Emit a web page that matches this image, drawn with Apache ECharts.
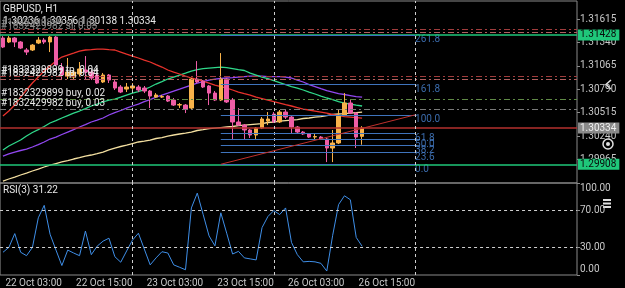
<!DOCTYPE html>
<html><head><meta charset="utf-8">
<script src="https://cdn.jsdelivr.net/npm/echarts@6/dist/echarts.min.js"></script>
<style>html,body{margin:0;padding:0;background:#000;}#c{width:625px;height:288px;}</style>
</head><body><div id="c"></div>
<script>
// ---------- data ----------
const symbolTitle = 'GBPUSD, H1';
const sessions = [['21 Oct',17,23],['22 Oct',0,23],['23 Oct',0,23],['26 Oct',0,23],['27 Oct',0,18]];
const timeLabels = ['22 Oct 03:00','22 Oct 15:00','23 Oct 03:00','23 Oct 15:00','26 Oct 03:00','26 Oct 15:00'];
const separators = ['22 Oct 15:00','23 Oct 15:00','26 Oct 15:00'];
const priceTicks = [1.29965,1.30240,1.30515,1.30790,1.31065,1.31340,1.31615];
const rsiTicks = [0,30,70,100];
const rsiGuides = [30,70];
// [open, close, low, high]
const candles = [
[1.31392,1.31286,1.31274,1.31415],[1.31345,1.31392,1.31333,1.31415],[1.31392,1.31345,1.31286,1.31403],
[1.31345,1.31274,1.31262,1.31356],[1.31251,1.31227,1.31192,1.31274],[1.31251,1.31309,1.31239,1.31321],
[1.31333,1.31368,1.31321,1.31403],[1.31368,1.31345,1.31321,1.31392],[1.31345,1.31403,1.31227,1.31415],
[1.31403,1.31075,1.31063,1.31415],[1.31051,1.30957,1.30898,1.31098],[1.30945,1.30992,1.30910,1.31157],
[1.30933,1.30992,1.30898,1.31016],[1.30969,1.31028,1.30945,1.31110],[1.31016,1.30992,1.30910,1.31180],
[1.30992,1.30922,1.30898,1.31016],[1.30957,1.30863,1.30851,1.30981],[1.30875,1.30957,1.30863,1.30981],
[1.30957,1.30898,1.30863,1.30969],[1.30875,1.30804,1.30781,1.30898],[1.30816,1.30757,1.30745,1.30839],
[1.30792,1.30816,1.30757,1.30863],[1.30804,1.30828,1.30781,1.30863],[1.30816,1.30781,1.30757,1.30839],
[1.30804,1.30769,1.30745,1.30828],[1.30769,1.30710,1.30569,1.30781],[1.30698,1.30722,1.30687,1.30745],
[1.30698,1.30704,1.30687,1.30722],[1.30710,1.30651,1.30640,1.30722],[1.30663,1.30604,1.30593,1.30687],
[1.30604,1.30610,1.30569,1.30628],[1.30604,1.30557,1.30510,1.30616],[1.30569,1.30910,1.30557,1.30922],
[1.30910,1.30875,1.30863,1.31121],[1.30886,1.30816,1.30804,1.30898],[1.30828,1.30745,1.30604,1.30839],
[1.30745,1.30663,1.30651,1.30769],[1.30663,1.30910,1.30651,1.31215],[1.30910,1.30640,1.30628,1.30922],
[1.30663,1.30405,1.30193,1.30687],[1.30405,1.30369,1.30358,1.30569],[1.30369,1.30311,1.30205,1.30381],
[1.30311,1.30252,1.30217,1.30322],[1.30252,1.30334,1.30205,1.30346],[1.30334,1.30440,1.30322,1.30463],
[1.30416,1.30440,1.30369,1.30522],[1.30498,1.30405,1.30393,1.30522],[1.30405,1.30522,1.30393,1.30546],
[1.30522,1.30463,1.30440,1.30546],[1.30463,1.30346,1.30275,1.30475],[1.30346,1.30287,1.30275,1.30358],
[1.30287,1.30264,1.30252,1.30299],[1.30264,1.30228,1.30217,1.30275],[1.30228,1.30234,1.30193,1.30275],
[1.30228,1.30205,1.30193,1.30240],[1.30205,1.30099,1.29934,1.30217],[1.30099,1.30158,1.29934,1.30311],
[1.30158,1.30475,1.30146,1.30546],[1.30487,1.30628,1.30475,1.30745],[1.30628,1.30510,1.30498,1.30663],
[1.30510,1.30228,1.30099,1.30522],[1.30236,1.30334,1.30138,1.30356]
];
const maRed = [1.30475,1.30534,1.30604,1.30698,1.30781,1.30863,1.30933,1.31004,1.31063,1.31121,1.31168,1.31192,1.31215,1.31239,1.31251,1.31256,1.31262,1.31262,1.31256,1.31251,1.31227,1.31203,1.31180,1.31157,1.31133,1.31110,1.31080,1.31051,1.31016,1.30992,1.30969,1.30945,1.30922,1.30904,1.30886,1.30863,1.30839,1.30822,1.30804,1.30781,1.30757,1.30739,1.30722,1.30698,1.30681,1.30663,1.30645,1.30628,1.30610,1.30593,1.30575,1.30557,1.30546,1.30534,1.30522,1.30510,1.30493,1.30481,1.30469,1.30463,1.30457,1.30451];
const maGreen = [1.30076,1.30123,1.30158,1.30193,1.30240,1.30281,1.30316,1.30352,1.30393,1.30422,1.30452,1.30481,1.30510,1.30534,1.30563,1.30593,1.30616,1.30640,1.30663,1.30675,1.30698,1.30722,1.30745,1.30763,1.30786,1.30816,1.30851,1.30880,1.30910,1.30933,1.30957,1.30980,1.31004,1.31021,1.31033,1.31039,1.31045,1.31051,1.31045,1.31033,1.31021,1.31010,1.30980,1.30957,1.30933,1.30916,1.30892,1.30869,1.30845,1.30822,1.30804,1.30781,1.30757,1.30734,1.30710,1.30687,1.30669,1.30645,1.30628,1.30616,1.30604,1.30593];
const maPurple = [1.30005,1.30029,1.30052,1.30070,1.30087,1.30111,1.30140,1.30170,1.30205,1.30228,1.30258,1.30287,1.30316,1.30346,1.30375,1.30405,1.30428,1.30452,1.30487,1.30516,1.30540,1.30569,1.30593,1.30616,1.30645,1.30669,1.30698,1.30722,1.30745,1.30769,1.30792,1.30816,1.30839,1.30863,1.30880,1.30898,1.30910,1.30916,1.30922,1.30927,1.30933,1.30939,1.30945,1.30945,1.30945,1.30939,1.30939,1.30939,1.30933,1.30922,1.30898,1.30875,1.30845,1.30822,1.30798,1.30775,1.30757,1.30739,1.30728,1.30716,1.30704,1.30698];
const maCream = [1.29711,1.29735,1.29758,1.29782,1.29805,1.29829,1.29852,1.29876,1.29899,1.29917,1.29935,1.29952,1.29970,1.29987,1.30005,1.30017,1.30034,1.30052,1.30076,1.30099,1.30117,1.30134,1.30152,1.30170,1.30181,1.30193,1.30211,1.30222,1.30240,1.30252,1.30264,1.30275,1.30287,1.30305,1.30316,1.30328,1.30334,1.30340,1.30346,1.30352,1.30363,1.30369,1.30375,1.30381,1.30387,1.30399,1.30405,1.30416,1.30422,1.30428,1.30434,1.30446,1.30452,1.30463,1.30469,1.30481,1.30493,1.30499,1.30504,1.30510,1.30516,1.30522];
const rsi = [24.7,30.0,45.0,24.7,21.0,30.0,62.2,75.7,44.3,27.1,10.3,27.1,23.9,21.0,47.8,22.1,31.4,36.8,40.0,19.9,13.9,26.1,37.9,45.4,28.2,11.0,18.6,25.3,23.9,11.0,8.4,5.7,72.9,89.0,65.7,42.5,31.7,67.6,45.4,22.8,25.7,18.6,17.5,16.4,51.5,63.6,70.0,65.7,72.9,35.4,22.1,14.3,14.8,14.3,12.7,4.3,43.2,76.5,86.1,81.8,40.8,31.22];
const greenLevels = [1.31428, 1.29908];
const lastPrice = 1.30334;
const slPrices = [1.31497, 1.31456];
const tpPrices = [1.30945, 1.30910];
const buyPrices = [1.30675, 1.30557];
const slTexts = ['#1832329899 sl, 0.02', '#1832429982 sl, 0.03'];
const tpTexts = ['#1832329899 tp, 0.04', '#1832429982 tp, 0.04'];
const buyTexts = ['#1832329899 buy, 0.02', '#1832429982 buy, 0.03'];
const fibLevels = ['0.0','23.6','38.2','50.0','61.8','100.0','161.8','261.8'];
const fibPrices = [1.29908,1.30045,1.30130,1.30199,1.30267,1.30489,1.30848,1.31428];
const fibStart = '23 Oct 06:00', fibEnd = '26 Oct 15:00';

// ---------- build ----------
const cats = [];
sessions.forEach(([d,a,b]) => { for (let h=a; h<=b; h++) cats.push(d + ' ' + String(h).padStart(2,'0') + ':00'); });

const UP = '#f7b24a', DOWN = '#ee5da6', LBL = '#c8c8c8', FIB = '#3f74bd';
const FONT = 'Roboto';
const dashed = [6,3,2,3];

const levels = [];
slPrices.forEach((p,i) => levels.push({yAxis:p, lineStyle:{color: i? '#b06060':'#a03c3c', type:dashed, width:1},
  label:{show:true, position:'insideStartTop', distance:1, formatter: slTexts[i], color:'#8a8a8a', fontSize:10, fontFamily:FONT}}));
tpPrices.forEach((p,i) => levels.push({yAxis:p, lineStyle:{color: i? '#b06060':'#a03c3c', type:dashed, width:1},
  label:{show:true, position:'insideStartTop', distance:1, formatter: tpTexts[i], color:'#e8e8e8', fontSize:10, fontFamily:FONT}}));
buyPrices.forEach((p,i) => levels.push({yAxis:p, lineStyle:{color: i? '#7a7a7a':'#5f8a45', type:dashed, width:1},
  label:{show:true, position:'insideStartTop', distance:1, formatter: buyTexts[i], color:'#e8e8e8', fontSize:10, fontFamily:FONT}}));
greenLevels.forEach(p => levels.push({yAxis:p, lineStyle:{color:'#1fc77a', width:1.6, type:'solid'},
  label:{show:true, position:'end', distance:1, formatter:p.toFixed(5), backgroundColor:'#1fc77a', color:'#0a0a0a', padding:[1,3,0,2], fontSize:10, fontFamily:FONT}}));
levels.push({yAxis:lastPrice, lineStyle:{color:'#b3302e', width:1.6, type:'solid'},
  label:{show:true, position:'end', distance:1, formatter:lastPrice.toFixed(5), backgroundColor:'#8a8a8a', color:'#f0f0f0', padding:[1,3,0,2], fontSize:10, fontFamily:FONT}});

const objs = [];
separators.forEach(s => objs.push({xAxis: s, lineStyle:{color:'#cfcfcf', type:[3,3], width:1}, label:{show:false}}));
fibPrices.forEach(p => objs.push([{coord:[fibStart,p], lineStyle:{color:FIB,width:1,type:'solid'}, label:{show:false}},{coord:[fibEnd,p]}]));
objs.push([{coord:[fibStart,fibPrices[0]], lineStyle:{color:'#c0302c',width:1,type:'solid'}, label:{show:false}},{coord:[fibEnd,fibPrices[5]]}]);

const maLine = (data, color, extra) => Object.assign({type:'line', xAxisIndex:0, yAxisIndex:0, data, symbol:'none', showSymbol:false,
  lineStyle:{color, width:1.3}, silent:true, z:2}, extra || {});

const last = candles[candles.length-1];
const ohlcText = [last[0], last[3], last[2], last[1]].map(v => v.toFixed(5)).join(' ');

const option = {
  backgroundColor:'#000', animation:false,
  textStyle:{fontFamily:FONT},
  grid:[{left:-1,right:48,top:1,height:182,show:true,borderColor:'#8a8a8a',borderWidth:1},
        {left:-1,right:48,top:183,height:93,show:true,borderColor:'#8a8a8a',borderWidth:1}],
  xAxis:[
    {type:'category',gridIndex:0,data:cats,boundaryGap:true,axisLine:{show:false},axisTick:{show:false},axisLabel:{show:false},splitLine:{show:false}},
    {type:'category',gridIndex:1,data:cats,boundaryGap:true,axisLine:{show:false},axisTick:{show:false},splitLine:{show:false},
     axisLabel:{interval:0,color:LBL,fontSize:10,margin:3,align:'right',fontFamily:FONT,formatter:v=>timeLabels.includes(v)?v:''}}
  ],
  yAxis:[
    {type:'value',gridIndex:0,position:'right',min:1.29688,max:1.31827,splitLine:{show:false},axisLine:{show:false},
     axisTick:{show:true,length:3,lineStyle:{color:'#8a8a8a'},customValues:priceTicks},
     axisLabel:{color:LBL,fontSize:10,margin:3,fontFamily:FONT,customValues:priceTicks,formatter:v=>v.toFixed(5)}},
    {type:'value',gridIndex:1,position:'right',min:0,max:100,splitLine:{show:false},axisLine:{show:false},
     axisTick:{show:true,length:3,lineStyle:{color:'#8a8a8a'},customValues:rsiTicks},
     axisLabel:{customValues:rsiTicks,color:LBL,fontSize:10,margin:3,fontFamily:FONT,
       formatter:v=> v===100?'{t|100.00}': v===0?'{b|0.00}': v.toFixed(2),
       rich:{t:{padding:[10,0,0,0],color:LBL,fontSize:10,fontFamily:FONT},b:{padding:[0,0,12,0],color:LBL,fontSize:10,fontFamily:FONT}}}}
  ],
  series:[
    maLine(maCream,'#f3dfa0',{markLine:{silent:true,precision:5,symbol:['none','none'],animation:false,data:levels}}),
    maLine(maPurple,'#9147f0'),
    maLine(maGreen,'#2fd88a'),
    maLine(maRed,'#e8322c'),
    {type:'candlestick', xAxisIndex:0, yAxisIndex:0, data:candles, barWidth:4, z:3, silent:true,
     itemStyle:{color:UP,color0:DOWN,borderColor:UP,borderColor0:DOWN,borderWidth:1},
     markLine:{silent:true,precision:5,symbol:['none','none'],animation:false,data:objs}},
    {type:'scatter', xAxisIndex:0, yAxisIndex:0, symbolSize:0, silent:true,
     data: fibPrices.map((p,i)=>({value:[fibEnd,p], label:{formatter:fibLevels[i]}})),
     label:{show:true,position:'right',distance:0,offset:[0,5],color:'#4a86d6',fontSize:10,fontFamily:FONT}},
    {type:'line', xAxisIndex:1, yAxisIndex:1, data:rsi, symbol:'none', lineStyle:{color:'#3f8fe8',width:1}, silent:true,
     markLine:{silent:true,symbol:['none','none'],animation:false,
       data:[...rsiGuides.map(v=>({yAxis:v})), ...separators.map(s=>({xAxis:s}))],
       lineStyle:{color:'#cfcfcf',type:[3,3],width:1}, label:{show:false}}}
  ],
  graphic:[
    {type:'text', left:3, top:4, style:{text:symbolTitle, fill:'#e8e8e8', font:'10px Roboto'}},
    {type:'text', left:3, top:16, style:{text:ohlcText, fill:'#e8e8e8', font:'10px Roboto'}},
    {type:'text', left:3, top:185, style:{text:'RSI(3) ' + rsi[rsi.length-1].toFixed(2), fill:'#e8e8e8', font:'10px Roboto'}},
    {type:'polyline', shape:{points:[[611,80],[606,84.5],[611,89]]}, style:{stroke:'#e0e0e0', lineWidth:1.5, fill:null}},
    {type:'circle', shape:{cx:608,cy:144,r:5}, style:{stroke:'#e0e0e0', lineWidth:1.5, fill:null}},
    {type:'circle', shape:{cx:608,cy:144,r:2}, style:{fill:'#e0e0e0'}},
    {type:'rect', shape:{x:603,y:199,width:8,height:2}, style:{fill:'#e0e0e0'}},
    {type:'rect', shape:{x:603,y:202.5,width:8,height:2}, style:{fill:'#e0e0e0'}},
    {type:'rect', shape:{x:603,y:206,width:8,height:2}, style:{fill:'#e0e0e0'}}
  ]
};
const chart = echarts.init(document.getElementById('c'));
chart.setOption(option);
</script></body></html>
